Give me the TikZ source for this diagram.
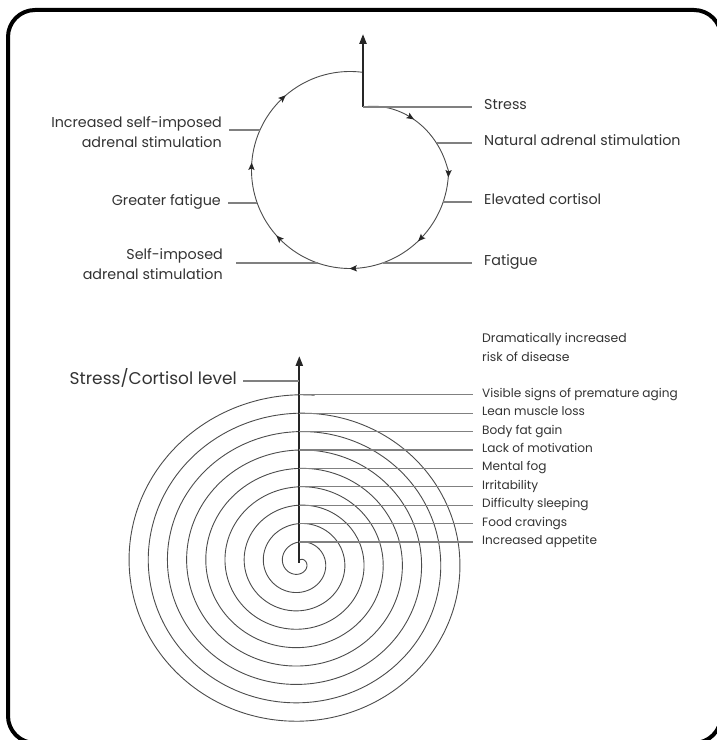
\documentclass[tikz,border=0pt]{standalone}
\usepackage{fontspec}
\setmainfont{Poppins}
\usetikzlibrary{arrows.meta}
\begin{document}
\begin{tikzpicture}[x=1pt,y=1pt,
  lbl/.style={font=\fontsize{14.3}{19.5}\selectfont, text=black!80, inner sep=0pt, text height=10pt, text depth=2.5pt},
  llbl/.style={font=\fontsize{14.3}{19.5}\selectfont, text=black!80, inner sep=0pt, align=right},
  slbl/.style={font=\fontsize{12.1}{14}\selectfont, text=black!80, inner sep=0pt, text height=8.5pt, text depth=2.5pt},
  rlbl/.style={font=\fontsize{12.4}{19}\selectfont, text=black!80, inner sep=0pt, align=left},
  leader/.style={draw=black!50, line width=1.1pt},
  curve/.style={draw=black!70, line width=0.9pt},
  axis/.style={draw=black!85, line width=2.2pt, -{Triangle[length=10pt,width=7pt]}},
  tipmark/.style={fill=black!85},
  declare function={Rt(\t)=(\t>0)*(64.3+0.430396*(78.3-\t))+(\t<=0)*98.5;
     Rb(\t)=2.2+0.0511111*\t;}
]
\useasboundingbox (0,0) rectangle (716,740);
\draw[line width=4pt, rounded corners=27pt] (8,730) rectangle (721,-3);

% ---------- top cycle ----------
\draw[curve] plot[domain=78.3:-277.6, samples=200, smooth] ({350+Rt(\x)*cos(\x)},{570+Rt(\x)*sin(\x)});
\foreach \a/\d in {41/-32, -2/-92, -44/-134, -88/-178, -136/-226, -182/-272, -227/-317} {
  \pgfmathsetmacro\rr{Rt(\a)}
  \fill[tipmark, shift={({350+\rr*cos(\a)},{570+\rr*sin(\a)})}, rotate=\d]
     (4,0) -- (-3.5,3.2) -- (-2,0) -- (-3.5,-3.2) -- cycle;
}
\coordinate (s0) at (363,633);
\coordinate (atop) at (363,706);
\draw[axis] (s0) -- (atop);

\coordinate (pNat) at (436.7,597);
\coordinate (pElev) at (443.2,538);
\coordinate (pFat) at (382.5,477);
\coordinate (pInc) at (260,610);
\coordinate (pGre) at (257.2,537);
\coordinate (pSelf) at (317.5,477);

\node[lbl, anchor=west] (stress) at (484,634) {Stress};
\node[lbl, anchor=west] (natural) at (484,598) {Natural adrenal stimulation};
\node[lbl, anchor=west] (elev) at (484,539) {Elevated cortisol};
\node[lbl, anchor=west] (fatigue) at (484,478) {Fatigue};
\node[llbl, anchor=east] (incr) at (222,608) {Increased self-imposed\\adrenal stimulation};
\node[lbl, anchor=east] (greater) at (221,538) {Greater fatigue};
\node[llbl, anchor=east] (selfimp) at (223,476) {Self-imposed\\adrenal stimulation};

\draw[leader] (s0) -- ([xshift=-12pt]stress.west |- s0);
\draw[leader] (pNat) -- ([xshift=-12pt]natural.west |- pNat);
\draw[leader] (pElev) -- ([xshift=-12pt]elev.west |- pElev);
\draw[leader] (pFat) -- ([xshift=-12pt]fatigue.west |- pFat);
\draw[leader] ([xshift=7pt]incr.east |- pInc) -- (pInc);
\draw[leader] ([xshift=7pt]greater.east |- pGre) -- (pGre);
\draw[leader] ([xshift=13pt]selfimp.east |- pSelf) -- (pSelf);

% ---------- bottom spiral ----------
\draw[curve] plot[domain=0:3245, samples=720, smooth] ({299.3+1.043*Rb(\x)*sin(\x)},{177.4+Rb(\x)*cos(\x)});
\coordinate (c2) at (299.3,177.4);
\coordinate (btip) at (299.3,384);
\draw[axis] (c2) -- (btip);

\node[font=\fontsize{17}{19}\selectfont, text=black!80, inner sep=0pt, anchor=east, text height=12pt, text depth=3pt] (scl) at (237,360) {Stress/Cortisol level};
\coordinate (sa) at (299.3,359);
\draw[leader] ([xshift=6pt]scl.east |- sa) -- (sa);

\node[rlbl, anchor=north west] (risk) at (482,407) {Dramatically increased\\risk of disease};

\foreach \k/\t in {1/Increased appetite, 2/Food cravings, 3/Difficulty sleeping, 4/Irritability, 5/Mental fog, 6/Lack of motivation, 7/Body fat gain, 8/Lean muscle loss, 9/Visible signs of premature aging} {
  \coordinate (a\k) at (299.3,{179.6+18.4*\k});
  \node[slbl, anchor=west] (b\k) at (482,{180+18.4*\k}) {\t};
  \draw[leader] (a\k) -- ([xshift=-9pt]b\k.west |- a\k);
}
\end{tikzpicture}
\end{document}
